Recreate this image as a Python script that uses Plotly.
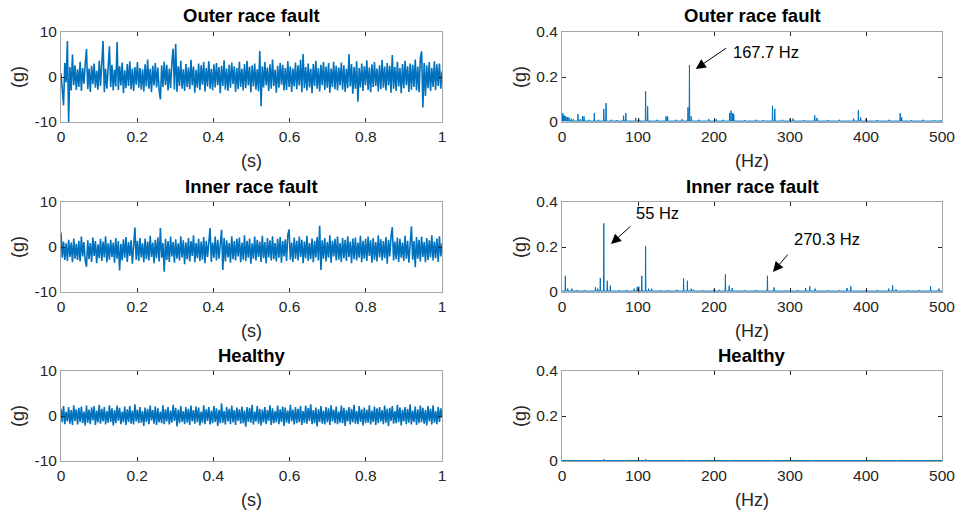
import numpy as np
import plotly.graph_objects as go
from plotly.subplots import make_subplots

# ---------------- data ----------------
titles = ["Outer race fault", "Inner race fault", "Healthy"]

outer_time = [
    0.8,-2.5,-6.3,3.1,-1.2,8.0,-10.0,2.2,-3.0,5.0,-1.8,2.6,-2.9,1.7,-2.2,3.4,-3.1,2.0,-1.5,2.8,
    6.2,-2.7,1.9,-3.3,2.5,-1.6,3.0,-2.4,1.4,-2.8,3.6,-2.0,2.3,8.0,-3.4,1.8,-2.6,3.1,6.8,-2.2,
    2.7,-3.0,1.6,-2.1,7.8,-2.9,2.4,-1.9,3.2,-3.6,1.5,-2.5,2.9,-2.0,3.5,-2.7,1.9,-3.1,2.2,-1.7,
    3.3,-2.4,2.0,-2.8,1.7,-3.2,2.8,-2.1,3.9,-2.6,1.8,-3.4,2.5,-1.9,3.1,-2.3,2.1,-2.9,-5.0,2.6,
    -2.2,3.4,-1.8,2.7,-3.0,1.9,-2.5,3.2,6.3,-2.8,7.4,-3.3,2.4,-2.0,3.6,-2.6,1.7,-3.1,2.9,-2.2,
    2.1,-2.7,3.8,-1.9,2.3,-3.5,1.6,-2.4,3.0,-2.9,2.6,-1.7,3.3,-3.2,2.0,-2.1,3.5,-2.6,1.8,-3.0,
    2.8,-2.3,3.1,-1.8,2.2,-3.6,2.5,-2.0,3.7,-2.8,1.9,-3.1,2.7,-2.4,3.2,-1.6,2.4,-3.3,2.0,-2.7,
    3.4,-2.2,1.8,-3.0,2.9,-2.5,3.6,-1.9,2.3,-3.4,2.6,-2.1,3.0,-2.8,1.7,-3.2,5.8,-6.5,2.4,-2.3,
    3.3,-1.8,2.1,-3.1,2.8,-2.6,3.9,-2.0,1.6,-3.5,2.5,-2.4,3.1,-1.7,2.7,-3.0,2.0,-2.9,3.5,-2.2,
    2.4,-3.3,1.9,-2.1,3.2,-2.7,2.6,-1.9,3.8,-3.4,5.1,-2.5,2.2,-3.0,3.0,-2.3,1.8,-3.6,2.9,-2.0,
    3.6,-2.6,2.0,-3.2,2.7,-1.8,3.3,-2.9,2.3,-2.4,3.1,-3.5,1.9,-2.2,3.4,-2.7,2.5,-3.0,2.1,-1.9,
    3.2,-2.8,2.6,-3.3,1.8,-2.5,5.1,-2.1,2.9,-3.7,2.2,-2.6,3.5,-5.5,2.0,-2.3,3.0,-3.1,2.4,-1.8,
    3.7,-2.9,2.1,-3.4,2.8,-2.2,3.3,-2.0,1.9,-3.2,2.6,-2.7,3.8,-2.4,2.3,-3.0,3.1,-1.9,2.5,-3.5,
    4.9,-2.6,2.2,-3.1,3.4,-2.1,2.0,-3.6,2.9,-2.5,3.6,-1.8,2.4,-3.3,3.0,-2.8,2.7,-2.2,3.9,-3.0,
    2.3,-3.4,4.2,5.7,-6.8,3.1,-4.2,2.6,-2.5,3.3,-3.1,2.0,-2.2,3.5,-2.9,2.8,-2.0,3.0,-2.6,1.2,
]

inner_time = [
    3.2,-2.4,1.2,-2.9,0.8,-3.1,1.6,-2.2,1.0,-3.4,1.9,-2.6,0.7,-2.9,1.4,-3.2,2.3,-2.1,1.1,-3.0,
    -4.4,1.5,-2.7,0.9,-3.3,2.1,-2.0,1.3,-3.6,0.6,-2.5,1.8,-3.1,1.2,-2.3,2.4,-3.4,0.8,-2.8,1.6,
    -2.2,1.0,-3.5,2.0,-2.6,1.3,-5.2,0.7,-3.0,1.7,-2.4,2.2,-3.3,1.1,-2.0,1.5,-3.7,0.9,4.3,-2.8,
    1.4,-3.1,2.0,-2.3,0.8,-3.4,1.9,-2.7,1.2,-3.0,2.5,-2.2,1.0,-3.6,1.6,-2.5,2.1,-3.2,4.2,-2.4,
    0.9,-5.5,1.8,-2.9,1.3,-3.3,2.3,-2.1,1.1,-3.5,1.7,-2.6,0.8,-3.0,2.4,-2.3,1.5,-3.8,1.0,-2.7,
    2.0,-3.2,1.3,-2.0,2.6,-3.4,0.9,-2.5,1.8,-3.1,1.2,-2.8,2.2,-3.6,1.4,-2.2,1.9,4.2,-3.3,1.0,
    -2.4,2.3,-3.0,1.6,-2.6,1.1,3.8,-5.1,2.0,-3.2,1.5,-2.3,0.9,-3.5,2.4,-2.7,1.3,-3.0,1.8,-2.1,
    2.1,-3.4,1.0,-2.8,2.6,-3.1,1.4,-2.4,1.9,-3.7,0.8,-2.6,2.3,-3.0,1.6,-2.2,1.2,-3.3,2.5,-2.5,
    1.1,-3.6,2.0,-2.3,1.5,-3.0,2.4,-2.7,0.9,-3.2,1.8,-2.4,2.2,-3.5,1.3,-2.1,1.7,-3.1,2.7,3.9,
    -2.8,1.0,-3.3,2.1,-2.6,1.4,-3.0,2.3,-2.2,1.6,-3.6,1.2,-2.5,2.5,-3.1,0.9,-2.7,1.9,-3.4,1.3,
    -2.3,2.2,-3.0,4.7,-5.1,1.5,-2.6,2.0,-3.2,1.1,-2.4,2.6,-3.5,1.4,-2.1,1.8,-3.0,2.3,-2.8,0.9,
    -3.3,2.0,-2.5,1.6,-3.1,2.4,-2.2,1.2,-3.6,1.9,-2.7,2.1,-3.0,1.0,-2.4,2.5,-3.4,1.4,-2.6,1.8,
    -3.1,2.3,-2.0,1.5,-3.5,2.0,-2.8,1.1,-3.2,2.6,-2.3,1.7,-3.0,1.3,-2.5,2.2,-3.7,1.6,-2.1,2.4,
    4.4,-3.0,1.2,-2.7,2.1,-3.3,1.8,-2.4,1.0,-3.1,2.5,-2.6,1.4,-3.5,2.0,4.6,-2.8,1.3,-4.5,2.2,
    -2.6,1.6,-3.2,2.3,-2.2,1.1,-3.4,2.0,-2.9,1.5,-2.3,2.6,-3.0,1.2,-2.5,1.9,-3.3,2.4,-2.1,0.8,
]

healthy_time = [
    1.6,-1.4,2.2,-1.8,0.9,-1.2,2.0,-1.7,1.3,-2.0,2.4,-1.1,1.5,-1.9,1.8,-1.3,2.1,-1.6,1.0,-2.1,
    2.3,-1.5,1.4,-1.8,1.9,-1.0,2.2,-2.0,1.2,-1.4,2.5,-1.7,1.6,-1.2,2.0,-1.9,1.1,-1.5,2.4,-1.3,
    1.7,-2.1,1.3,-1.6,2.3,-1.1,1.8,-1.8,1.0,-1.4,2.1,-2.0,1.5,-1.3,2.2,-1.7,1.2,-1.9,2.6,-1.2,
    1.4,-1.6,2.0,-1.5,1.1,-2.2,1.9,-1.3,1.6,-1.8,2.3,-1.0,1.3,-1.7,2.1,-2.0,1.7,-1.4,1.0,-1.6,
    2.4,-1.8,1.5,-1.2,2.0,-1.9,1.2,-1.5,2.5,-1.1,1.8,-2.3,1.4,-1.6,2.2,-1.3,1.1,-1.8,2.0,-1.5,
    1.6,-2.0,2.3,-1.2,1.3,-1.7,2.1,-1.4,1.9,-2.1,1.0,-1.5,2.4,-1.8,1.5,-1.1,2.0,-1.9,1.2,-1.6,
    2.2,-1.3,1.7,-2.2,1.4,-1.6,2.8,-1.5,1.1,-1.9,2.0,-1.2,1.6,-1.8,2.3,-1.4,1.3,-2.0,1.9,-1.1,
    1.5,-1.7,2.1,-1.6,1.2,-2.4,2.0,-1.3,1.8,-1.5,2.5,-1.9,1.0,-1.2,2.2,-1.7,1.6,-2.1,1.4,-1.4,
    2.0,-1.8,1.3,-1.1,2.4,-2.0,1.7,-1.6,1.1,-1.4,2.3,-1.8,1.5,-1.3,2.1,-2.2,1.9,-1.5,1.2,-1.7,
    2.5,-1.2,1.4,-1.9,2.0,-1.6,1.6,-1.4,2.2,-2.0,1.1,-1.5,2.3,-1.7,1.8,-1.1,2.6,-1.8,1.3,-1.6,
    1.9,-2.3,1.5,-1.3,2.2,-1.7,1.2,-1.9,2.0,-1.4,1.7,-2.0,2.4,-1.2,1.4,-1.6,2.1,-1.8,1.0,-1.5,
    2.3,-1.6,1.8,-2.2,1.3,-1.2,2.0,-1.9,1.6,-1.4,2.5,-1.7,1.1,-1.8,2.2,-1.3,1.5,-2.1,1.9,-1.6,
    1.4,-1.5,2.4,-1.9,1.2,-1.3,2.1,-2.0,1.7,-1.6,2.0,-1.2,1.3,-1.8,2.3,-1.5,1.6,-2.2,1.8,-1.1,
    2.2,-1.7,1.1,-1.6,2.5,-1.4,1.9,-2.1,1.4,-1.2,2.0,-1.8,1.6,-1.5,2.6,-1.9,1.2,-1.3,2.1,-2.0,
    1.5,-1.6,2.3,-1.4,1.8,-1.7,1.3,-2.1,2.2,-1.2,1.6,-1.9,2.4,-1.5,1.1,-1.8,2.0,-1.3,1.7,-0.4,
]

# spectral peaks (Hz, g)
outer_freq = [1, 2, 3.5, 5, 7, 9, 12, 15, 21, 24, 27, 29, 35, 42.5, 48, 55, 58, 65, 72, 81, 84,
              97, 102, 110, 112.7, 125, 137, 139, 150, 158, 165.8, 167.7, 170, 180, 193, 203,
              212, 220.6, 222.4, 224.6, 226, 240, 255, 265, 277, 280, 290, 300, 304, 318,
              332.5, 335.5, 350, 365, 383.8, 390, 393, 400, 415, 430, 445, 447, 460, 475, 490, 498]
outer_amp = [0.04, 0.03, 0.028, 0.025, 0.022, 0.02, 0.015, 0.012, 0.035, 0.012, 0.025, 0.025,
             0.01, 0.04, 0.01, 0.058, 0.084, 0.01, 0.009, 0.028, 0.04, 0.018, 0.01, 0.136, 0.07,
             0.01, 0.025, 0.025, 0.01, 0.012, 0.065, 0.253, 0.025, 0.01, 0.013, 0.013, 0.01,
             0.04, 0.05, 0.04, 0.035, 0.009, 0.01, 0.009, 0.072, 0.058, 0.01, 0.015, 0.015,
             0.009, 0.03, 0.018, 0.009, 0.01, 0.015, 0.052, 0.02, 0.015, 0.009, 0.01, 0.04,
             0.02, 0.009, 0.01, 0.009, 0.008]

inner_freq = [4.4, 7.5, 13, 20, 30, 44, 47, 50.4, 55, 59.6, 63.6, 75, 85, 95, 99, 101, 105, 110,
              114, 118, 130, 140, 151, 160, 165, 170, 173, 185, 200, 207, 215, 220, 224, 240,
              255, 270.3, 279, 295, 310, 320.6, 326, 333, 350, 365, 375, 380, 400, 415, 430,
              435, 439.5, 455, 470, 485, 496]
inner_amp = [0.072, 0.015, 0.015, 0.009, 0.008, 0.022, 0.015, 0.062, 0.305, 0.05, 0.028, 0.008,
             0.009, 0.015, 0.022, 0.025, 0.072, 0.203, 0.015, 0.015, 0.008, 0.009, 0.01, 0.06,
             0.05, 0.015, 0.01, 0.008, 0.012, 0.01, 0.078, 0.028, 0.018, 0.008, 0.009, 0.072,
             0.02, 0.008, 0.009, 0.018, 0.025, 0.015, 0.008, 0.009, 0.018, 0.025, 0.008, 0.009,
             0.015, 0.03, 0.012, 0.008, 0.009, 0.025, 0.015]

healthy_freq = [27.5, 55, 82.5, 110, 165, 220, 275, 330, 440]
healthy_amp = [0.003, 0.008, 0.003, 0.008, 0.003, 0.004, 0.003, 0.003, 0.003]

noise_floor = [0.004, 0.004, 0.002]

# ---------------- figure ----------------
W, H = 957, 518
BLUE = "#0072BD"
TXT = "#262626"
FONT = "Liberation Sans, Arial, sans-serif"

fig = make_subplots(rows=3, cols=2)

def spectrum(freqs, amps, base):
    xs, ys = [0.0], [base]
    for f, a in sorted(zip(freqs, amps)):
        xs += [f - 0.4, f, f + 0.4]
        ys += [base, a, base]
    xs.append(500.0)
    ys.append(base)
    return xs, ys

times = [outer_time, inner_time, healthy_time]
specs = [(outer_freq, outer_amp), (inner_freq, inner_amp), (healthy_freq, healthy_amp)]

for r in range(3):
    sig = times[r]
    t = np.linspace(0, 1, len(sig))
    fig.add_trace(go.Scatter(x=t, y=sig, mode="lines",
                             line=dict(color=BLUE, width=1.6), showlegend=False,
                             hoverinfo="skip"), row=r + 1, col=1)
    fx, fy = spectrum(specs[r][0], specs[r][1], noise_floor[r])
    fig.add_trace(go.Scatter(x=fx, y=fy, mode="lines",
                             line=dict(color=BLUE, width=1.0), showlegend=False,
                             hoverinfo="skip"), row=r + 1, col=2)

# pixel layout
left_x = (61, 442)
right_x = (562, 942)
rows_px = [(32, 122), (202, 292), (371, 461)]

axis_common = dict(showline=True, linecolor="#a6a6a6", linewidth=1, mirror="ticks",
                   ticks="inside", ticklen=4, tickcolor=TXT, tickwidth=1,
                   showgrid=False, zeroline=False, automargin=False,
                   tickfont=dict(family=FONT, size=15.5, color=TXT))

annotations = []
for r in range(3):
    top, bot = rows_px[r]
    yd = [1 - bot / H, 1 - top / H]
    for c in range(2):
        idx = r * 2 + c + 1
        xname = "xaxis" if idx == 1 else f"xaxis{idx}"
        yname = "yaxis" if idx == 1 else f"yaxis{idx}"
        xs = left_x if c == 0 else right_x
        xd = [xs[0] / W, xs[1] / W]
        if c == 0:
            xcfg = dict(range=[0, 1], tickvals=[0, 0.2, 0.4, 0.6, 0.8, 1],
                        ticktext=["0", "0.2", "0.4", "0.6", "0.8", "1"])
            ycfg = dict(range=[-10, 10], tickvals=[-10, 0, 10],
                        ticktext=["-10", "0", "10"])
            xlabel = "(s)"
        else:
            xcfg = dict(range=[0, 500], tickvals=[0, 100, 200, 300, 400, 500])
            ycfg = dict(range=[0, 0.4], tickvals=[0, 0.2, 0.4],
                        ticktext=["0", "0.2", "0.4"])
            xlabel = "(Hz)"
        fig.update_layout({xname: dict(domain=xd, **xcfg, **axis_common),
                           yname: dict(domain=yd, **ycfg, **axis_common)})
        xc = (xd[0] + xd[1]) / 2
        annotations.append(dict(text="<b>" + titles[r] + "</b>", x=xc, y=yd[1],
                                xref="paper", yref="paper", xanchor="center",
                                yanchor="middle", yshift=16, showarrow=False,
                                font=dict(family=FONT, size=18.5, color="#000000")))
        annotations.append(dict(text=xlabel, x=xc, y=yd[0], xref="paper", yref="paper",
                                xanchor="center", yanchor="middle", yshift=-39,
                                showarrow=False,
                                font=dict(family=FONT, size=18, color=TXT)))
        ylab_x = 18 if c == 0 else 520
        annotations.append(dict(text="(g)", x=ylab_x / W, y=(yd[0] + yd[1]) / 2,
                                xref="paper", yref="paper", xanchor="center",
                                yanchor="middle", textangle=-90, showarrow=False,
                                font=dict(family=FONT, size=18, color=TXT)))

arrows = [
    ("x2", "y2", 176, 0.236, 218, 0.333, "167.7 Hz", 222, 0.311),
    ("x4", "y4", 64.5, 0.213, 92, 0.298, "55 Hz", 95, 0.351),
    ("x4", "y4", 277.6, 0.089, 298.7, 0.173, "270.3 Hz", 303, 0.236),
]
for xa, ya, tx, ty, sx, sy, txt, lx, ly in arrows:
    annotations.append(dict(x=tx, y=ty, ax=sx, ay=sy, xref=xa, yref=ya, axref=xa, ayref=ya,
                            text="", showarrow=True, arrowhead=2, arrowsize=2.0,
                            arrowwidth=1, arrowcolor="#000000"))
    annotations.append(dict(x=lx, y=ly, xref=xa, yref=ya, text=txt, showarrow=False,
                            xanchor="left", yanchor="middle",
                            font=dict(family=FONT, size=16.5, color="#000000")))

fig.update_layout(width=W, height=H, margin=dict(l=0, r=0, t=0, b=0),
                  paper_bgcolor="white", plot_bgcolor="white",
                  annotations=annotations, showlegend=False)

fig.write_html("out.html",
               post_script="document.body.style.margin='0';document.body.style.overflow='hidden';")
